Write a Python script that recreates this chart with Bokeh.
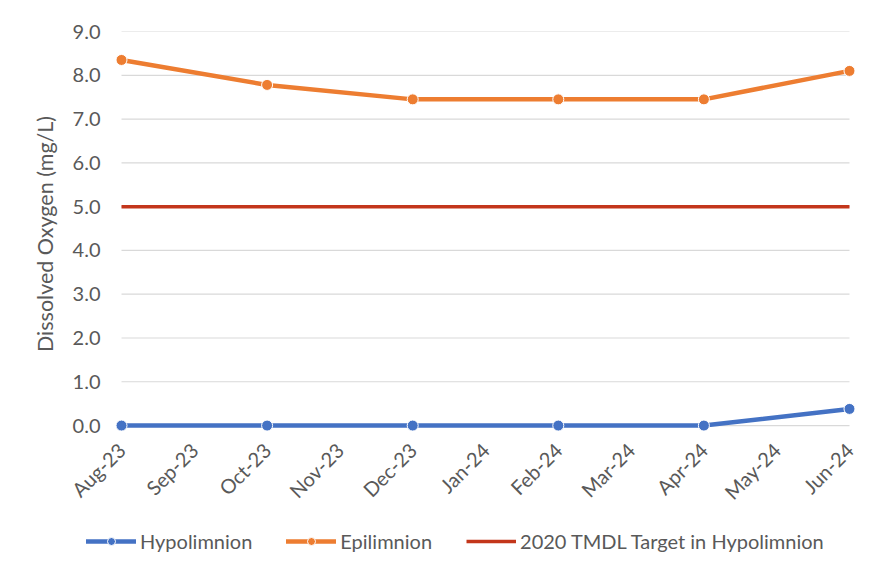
from bokeh.plotting import figure
from bokeh.layouts import column
from bokeh.models import Legend, LegendItem, FixedTicker, Range1d, ColumnDataSource
from bokeh.embed import file_html
from bokeh.resources import INLINE
import math

months = ["Aug-23", "Sep-23", "Oct-23", "Nov-23", "Dec-23", "Jan-24",
          "Feb-24", "Mar-24", "Apr-24", "May-24", "Jun-24"]
sample_months = ["Aug-23", "Oct-23", "Dec-23", "Feb-24", "Apr-24", "Jun-24"]
hypolimnion = [0.0, 0.0, 0.0, 0.0, 0.0, 0.38]
epilimnion = [8.35, 7.78, 7.45, 7.45, 7.45, 8.1]
tmdl_target = [5.0, 5.0, 5.0, 5.0, 5.0, 5.0]
series_names = ["Hypolimnion", "Epilimnion", "2020 TMDL Target in Hypolimnion"]
y_ticks = [0, 1, 2, 3, 4, 5, 6, 7, 8, 9]

FONT = "Lato"
TXT = "#595959"
GRID = "#d9d9d9"
BLUE, ORANGE, RED = "#4472C4", "#ED7D31", "#C3361B"

xs = [months.index(m) for m in sample_months]
src = ColumnDataSource(dict(x=xs, hypo=hypolimnion, epi=epilimnion, tmdl=tmdl_target))
n_last = len(months) - 1
grid_src = ColumnDataSource(dict(x0=[0] * len(y_ticks), x1=[n_last] * len(y_ticks),
                                 y=y_ticks))

p = figure(width=885, height=526, output_backend="svg", toolbar_location=None,
           x_range=Range1d(-0.4808, n_last + 0.11), y_range=Range1d(-0.25, 9),
           min_border_left=86, min_border_right=28, min_border_top=31,
           min_border_bottom=90,
           background_fill_color="white", border_fill_color="white")
p.outline_line_color = None

p.segment(x0="x0", x1="x1", y0="y", y1="y", source=grid_src,
          line_color=GRID, line_width=1.2)

line_kw = dict(line_width=4.5, line_join="round", line_cap="round")
p.line("x", "hypo", source=src, line_color=BLUE, **line_kw)
p.line("x", "epi", source=src, line_color=ORANGE, **line_kw)
p.line("x", "tmdl", source=src, line_color=RED, line_width=3.5)
p.scatter("x", "hypo", source=src, size=11, fill_color=BLUE, line_color="white", line_width=1)
p.scatter("x", "epi", source=src, size=11, fill_color=ORANGE, line_color="white", line_width=1)

# axes
p.xaxis.ticker = FixedTicker(ticks=list(range(len(months))))
p.xaxis.major_label_overrides = {i: m for i, m in enumerate(months)}
p.xaxis.major_label_orientation = math.pi / 4
p.xaxis.axis_line_color = None
p.xaxis.major_tick_line_color = None
p.xaxis.minor_tick_line_color = None
p.xaxis.major_tick_out = 0
p.xaxis.major_tick_in = 0
p.xaxis.major_label_text_font = FONT
p.xaxis.major_label_text_font_size = "20px"
p.xaxis.major_label_text_color = TXT
p.xaxis.major_label_standoff = 10

p.yaxis.ticker = FixedTicker(ticks=y_ticks)
p.yaxis.major_label_overrides = {t: f"{t:.1f}" for t in y_ticks}
p.yaxis.axis_line_color = None
p.yaxis.major_tick_line_color = None
p.yaxis.minor_tick_line_color = None
p.yaxis.major_label_text_font = FONT
p.yaxis.major_label_text_font_size = "20px"
p.yaxis.major_label_text_color = TXT
p.yaxis.major_label_standoff = -20
p.yaxis.axis_label = "Dissolved Oxygen (mg/L)"
p.yaxis.axis_label_text_font = FONT
p.yaxis.axis_label_text_font_size = "21.5px"
p.yaxis.axis_label_text_font_style = "normal"
p.yaxis.axis_label_text_color = TXT
p.yaxis.axis_label_standoff = 12

p.xgrid.grid_line_color = None
p.ygrid.grid_line_color = None

# legend strip: its own small figure whose ranges keep the series out of view
lg = figure(width=885, height=30, output_backend="svg", toolbar_location=None,
            x_range=Range1d(100, 101), y_range=Range1d(100, 101),
            x_axis_location=None, y_axis_location=None,
            min_border_left=86, min_border_right=28, min_border_top=0, min_border_bottom=0,
            background_fill_color="white", border_fill_color="white")
lg.outline_line_color = None
lg.xgrid.grid_line_color = None
lg.ygrid.grid_line_color = None
l_hypo = lg.line("x", "hypo", source=src, line_color=BLUE, **line_kw)
m_hypo = lg.scatter("x", "hypo", source=src, size=11, fill_color=BLUE,
                    line_color="white", line_width=1)
l_epi = lg.line("x", "epi", source=src, line_color=ORANGE, **line_kw)
m_epi = lg.scatter("x", "epi", source=src, size=11, fill_color=ORANGE,
                   line_color="white", line_width=1)
l_tmdl = lg.line("x", "tmdl", source=src, line_color=RED, line_width=3.5)

legend = Legend(items=[
    LegendItem(label=series_names[0], renderers=[l_hypo, m_hypo]),
    LegendItem(label=series_names[1], renderers=[l_epi, m_epi]),
    LegendItem(label=series_names[2], renderers=[l_tmdl]),
], orientation="horizontal", location=(0, 3))
legend.label_text_font = FONT
legend.label_text_font_size = "20px"
legend.label_text_color = TXT
legend.glyph_width = 50
legend.glyph_height = 20
legend.label_standoff = 4
legend.spacing = 34
legend.padding = 0
legend.margin = 0
legend.border_line_color = None
legend.background_fill_alpha = 0
lg.add_layout(legend, "center")

layout = column(p, lg, spacing=0)
open("out.html", "w").write(file_html(layout, INLINE))
